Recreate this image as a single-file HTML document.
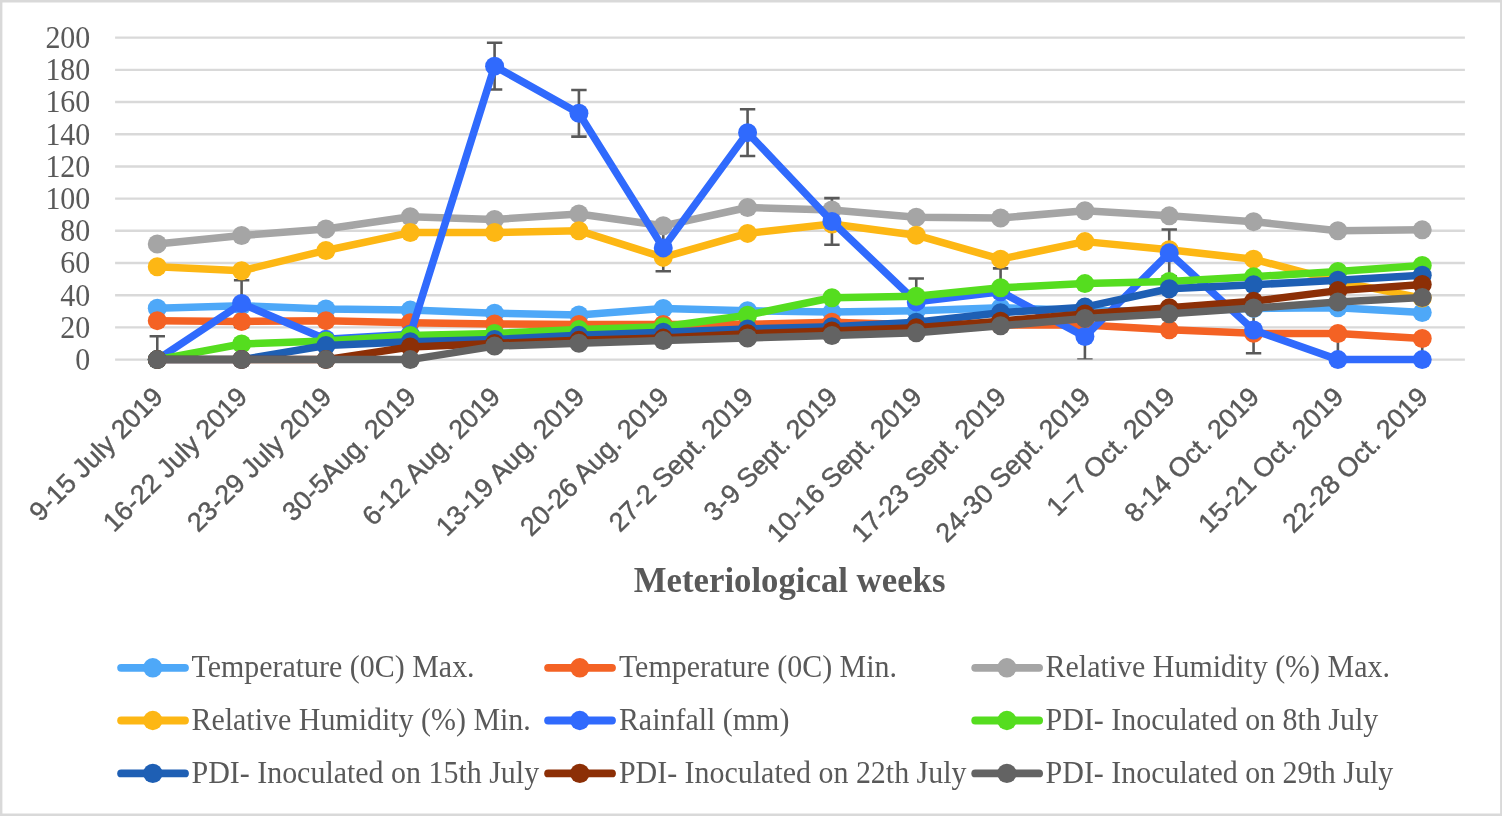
<!DOCTYPE html>
<html lang="en"><head><meta charset="utf-8"><title>Meteriological weeks</title>
<style>
html,body{margin:0;padding:0;background:#fff;}
body{width:1502px;height:816px;overflow:hidden;}
svg{display:block;}
.ser{font-family:"Liberation Serif",serif;font-size:31.3px;fill:#595959;}
.xl{font-family:"Liberation Sans",sans-serif;font-size:26.8px;fill:#595959;stroke:#595959;stroke-width:0.45px;}
.ttl{font-family:"Liberation Serif",serif;font-weight:bold;font-size:34.75px;fill:#595959;}
</style></head><body>
<svg width="1502" height="816" viewBox="0 0 1502 816">
<rect x="0" y="0" width="1502" height="816" fill="#fff"/>
<g fill="#D9D9D9"><rect x="0" y="0" width="1502" height="2.5"/><rect x="0" y="813.5" width="1502" height="2.5"/><rect x="0" y="0" width="2.4" height="816"/><rect x="1500.1" y="0" width="1.9" height="816"/></g>
<g stroke="#D9D9D9" stroke-width="2.4" fill="none">
<line x1="115.1" y1="359.60" x2="1464.9" y2="359.60"/>
<line x1="115.1" y1="327.41" x2="1464.9" y2="327.41"/>
<line x1="115.1" y1="295.21" x2="1464.9" y2="295.21"/>
<line x1="115.1" y1="263.01" x2="1464.9" y2="263.01"/>
<line x1="115.1" y1="230.82" x2="1464.9" y2="230.82"/>
<line x1="115.1" y1="198.62" x2="1464.9" y2="198.62"/>
<line x1="115.1" y1="166.43" x2="1464.9" y2="166.43"/>
<line x1="115.1" y1="134.23" x2="1464.9" y2="134.23"/>
<line x1="115.1" y1="102.04" x2="1464.9" y2="102.04"/>
<line x1="115.1" y1="69.84" x2="1464.9" y2="69.84"/>
<line x1="115.1" y1="37.65" x2="1464.9" y2="37.65"/>
</g>
<g class="ser" text-anchor="end">
<text transform="translate(90.3 370.00) scale(0.9569 1)">0</text>
<text transform="translate(90.3 337.81) scale(0.9569 1)">20</text>
<text transform="translate(90.3 305.61) scale(0.9569 1)">40</text>
<text transform="translate(90.3 273.41) scale(0.9569 1)">60</text>
<text transform="translate(90.3 241.22) scale(0.9569 1)">80</text>
<text transform="translate(90.3 209.03) scale(0.9569 1)">100</text>
<text transform="translate(90.3 176.83) scale(0.9569 1)">120</text>
<text transform="translate(90.3 144.63) scale(0.9569 1)">140</text>
<text transform="translate(90.3 112.44) scale(0.9569 1)">160</text>
<text transform="translate(90.3 80.24) scale(0.9569 1)">180</text>
<text transform="translate(90.3 48.05) scale(0.9569 1)">200</text>
</g>
<clipPath id="pc"><rect x="115.1" y="0" width="1349.3" height="359.60"/></clipPath>
<g stroke="#595959" stroke-width="2.6" fill="none" clip-path="url(#pc)">
<path d="M157.27 336.26V359.60M149.57 336.26h15.4M149.57 359.60h15.4"/>
<path d="M241.60 280.24V326.92M233.90 280.24h15.4M233.90 326.92h15.4"/>
<path d="M325.93 315.98V359.60M318.23 315.98h15.4M318.23 359.60h15.4"/>
<path d="M410.26 310.99V357.67M402.56 310.99h15.4M402.56 357.67h15.4"/>
<path d="M494.59 42.80V89.48M486.89 42.80h15.4M486.89 89.48h15.4"/>
<path d="M578.92 89.97V136.65M571.22 89.97h15.4M571.22 136.65h15.4"/>
<path d="M663.25 224.54V271.22M655.55 224.54h15.4M655.55 271.22h15.4"/>
<path d="M747.58 109.28V155.97M739.88 109.28h15.4M739.88 155.97h15.4"/>
<path d="M831.92 198.14V244.82M824.22 198.14h15.4M824.22 244.82h15.4"/>
<path d="M916.25 278.55V325.23M908.55 278.55h15.4M908.55 325.23h15.4"/>
<path d="M1000.58 268.33V315.01M992.88 268.33h15.4M992.88 315.01h15.4"/>
<path d="M1084.91 313.24V359.60M1077.21 313.24h15.4M1077.21 359.60h15.4"/>
<path d="M1169.24 229.53V276.21M1161.54 229.53h15.4M1161.54 276.21h15.4"/>
<path d="M1253.57 306.64V353.32M1245.87 306.64h15.4M1245.87 353.32h15.4"/>
<path d="M1337.90 336.26V359.60M1330.20 336.26h15.4M1330.20 359.60h15.4"/>
<path d="M1422.23 336.26V359.60M1414.53 336.26h15.4M1414.53 359.60h15.4"/>
</g>
<g fill="#4EA8F8">
<polyline points="157.27,308.25 241.60,305.67 325.93,309.05 410.26,310.10 494.59,313.24 578.92,314.93 663.25,308.41 747.58,310.82 831.92,312.11 916.25,310.82 1000.58,307.77 1084.91,310.50 1169.24,311.31 1253.57,308.41 1337.90,307.85 1422.23,312.60" fill="none" stroke="#4EA8F8" stroke-width="7.5" stroke-linejoin="round" stroke-linecap="round"/>
<circle cx="157.27" cy="308.25" r="9.5"/>
<circle cx="241.60" cy="305.67" r="9.5"/>
<circle cx="325.93" cy="309.05" r="9.5"/>
<circle cx="410.26" cy="310.10" r="9.5"/>
<circle cx="494.59" cy="313.24" r="9.5"/>
<circle cx="578.92" cy="314.93" r="9.5"/>
<circle cx="663.25" cy="308.41" r="9.5"/>
<circle cx="747.58" cy="310.82" r="9.5"/>
<circle cx="831.92" cy="312.11" r="9.5"/>
<circle cx="916.25" cy="310.82" r="9.5"/>
<circle cx="1000.58" cy="307.77" r="9.5"/>
<circle cx="1084.91" cy="310.50" r="9.5"/>
<circle cx="1169.24" cy="311.31" r="9.5"/>
<circle cx="1253.57" cy="308.41" r="9.5"/>
<circle cx="1337.90" cy="307.85" r="9.5"/>
<circle cx="1422.23" cy="312.60" r="9.5"/>
</g>
<g fill="#F46224">
<polyline points="157.27,320.64 241.60,321.45 325.93,320.64 410.26,322.74 494.59,324.02 578.92,324.59 663.25,324.59 747.58,324.35 831.92,322.25 916.25,324.67 1000.58,324.99 1084.91,324.99 1169.24,329.66 1253.57,333.36 1337.90,333.52 1422.23,338.51" fill="none" stroke="#F46224" stroke-width="7.5" stroke-linejoin="round" stroke-linecap="round"/>
<circle cx="157.27" cy="320.64" r="9.5"/>
<circle cx="241.60" cy="321.45" r="9.5"/>
<circle cx="325.93" cy="320.64" r="9.5"/>
<circle cx="410.26" cy="322.74" r="9.5"/>
<circle cx="494.59" cy="324.02" r="9.5"/>
<circle cx="578.92" cy="324.59" r="9.5"/>
<circle cx="663.25" cy="324.59" r="9.5"/>
<circle cx="747.58" cy="324.35" r="9.5"/>
<circle cx="831.92" cy="322.25" r="9.5"/>
<circle cx="916.25" cy="324.67" r="9.5"/>
<circle cx="1000.58" cy="324.99" r="9.5"/>
<circle cx="1084.91" cy="324.99" r="9.5"/>
<circle cx="1169.24" cy="329.66" r="9.5"/>
<circle cx="1253.57" cy="333.36" r="9.5"/>
<circle cx="1337.90" cy="333.52" r="9.5"/>
<circle cx="1422.23" cy="338.51" r="9.5"/>
</g>
<g fill="#A5A5A5">
<polyline points="157.27,244.02 241.60,235.49 325.93,229.05 410.26,216.82 494.59,219.39 578.92,214.08 663.25,225.83 747.58,207.48 831.92,209.89 916.25,217.30 1000.58,217.94 1084.91,210.70 1169.24,215.85 1253.57,221.64 1337.90,230.66 1422.23,229.85" fill="none" stroke="#A5A5A5" stroke-width="7.5" stroke-linejoin="round" stroke-linecap="round"/>
<circle cx="157.27" cy="244.02" r="9.5"/>
<circle cx="241.60" cy="235.49" r="9.5"/>
<circle cx="325.93" cy="229.05" r="9.5"/>
<circle cx="410.26" cy="216.82" r="9.5"/>
<circle cx="494.59" cy="219.39" r="9.5"/>
<circle cx="578.92" cy="214.08" r="9.5"/>
<circle cx="663.25" cy="225.83" r="9.5"/>
<circle cx="747.58" cy="207.48" r="9.5"/>
<circle cx="831.92" cy="209.89" r="9.5"/>
<circle cx="916.25" cy="217.30" r="9.5"/>
<circle cx="1000.58" cy="217.94" r="9.5"/>
<circle cx="1084.91" cy="210.70" r="9.5"/>
<circle cx="1169.24" cy="215.85" r="9.5"/>
<circle cx="1253.57" cy="221.64" r="9.5"/>
<circle cx="1337.90" cy="230.66" r="9.5"/>
<circle cx="1422.23" cy="229.85" r="9.5"/>
</g>
<g fill="#FDB714">
<polyline points="157.27,266.72 241.60,270.74 325.93,250.46 410.26,232.59 494.59,232.59 578.92,230.66 663.25,257.38 747.58,233.40 831.92,224.06 916.25,235.17 1000.58,259.15 1084.91,241.61 1169.24,249.82 1253.57,259.15 1337.90,281.37 1422.23,298.11" fill="none" stroke="#FDB714" stroke-width="7.5" stroke-linejoin="round" stroke-linecap="round"/>
<circle cx="157.27" cy="266.72" r="9.5"/>
<circle cx="241.60" cy="270.74" r="9.5"/>
<circle cx="325.93" cy="250.46" r="9.5"/>
<circle cx="410.26" cy="232.59" r="9.5"/>
<circle cx="494.59" cy="232.59" r="9.5"/>
<circle cx="578.92" cy="230.66" r="9.5"/>
<circle cx="663.25" cy="257.38" r="9.5"/>
<circle cx="747.58" cy="233.40" r="9.5"/>
<circle cx="831.92" cy="224.06" r="9.5"/>
<circle cx="916.25" cy="235.17" r="9.5"/>
<circle cx="1000.58" cy="259.15" r="9.5"/>
<circle cx="1084.91" cy="241.61" r="9.5"/>
<circle cx="1169.24" cy="249.82" r="9.5"/>
<circle cx="1253.57" cy="259.15" r="9.5"/>
<circle cx="1337.90" cy="281.37" r="9.5"/>
<circle cx="1422.23" cy="298.11" r="9.5"/>
</g>
<g fill="#306AFD">
<polyline points="157.27,359.60 241.60,303.58 325.93,339.32 410.26,334.33 494.59,66.14 578.92,113.31 663.25,247.88 747.58,132.63 831.92,221.48 916.25,301.89 1000.58,291.67 1084.91,336.58 1169.24,252.87 1253.57,329.98 1337.90,359.60 1422.23,359.60" fill="none" stroke="#306AFD" stroke-width="7.5" stroke-linejoin="round" stroke-linecap="round"/>
<circle cx="157.27" cy="359.60" r="9.5"/>
<circle cx="241.60" cy="303.58" r="9.5"/>
<circle cx="325.93" cy="339.32" r="9.5"/>
<circle cx="410.26" cy="334.33" r="9.5"/>
<circle cx="494.59" cy="66.14" r="9.5"/>
<circle cx="578.92" cy="113.31" r="9.5"/>
<circle cx="663.25" cy="247.88" r="9.5"/>
<circle cx="747.58" cy="132.63" r="9.5"/>
<circle cx="831.92" cy="221.48" r="9.5"/>
<circle cx="916.25" cy="301.89" r="9.5"/>
<circle cx="1000.58" cy="291.67" r="9.5"/>
<circle cx="1084.91" cy="336.58" r="9.5"/>
<circle cx="1169.24" cy="252.87" r="9.5"/>
<circle cx="1253.57" cy="329.98" r="9.5"/>
<circle cx="1337.90" cy="359.60" r="9.5"/>
<circle cx="1422.23" cy="359.60" r="9.5"/>
</g>
<g fill="#55DD1F">
<polyline points="157.27,359.60 241.60,343.99 325.93,340.93 410.26,335.45 494.59,333.52 578.92,329.42 663.25,326.68 747.58,315.17 831.92,297.71 916.25,296.34 1000.58,287.81 1084.91,283.62 1169.24,281.53 1253.57,276.70 1337.90,271.55 1422.23,265.43" fill="none" stroke="#55DD1F" stroke-width="7.5" stroke-linejoin="round" stroke-linecap="round"/>
<circle cx="157.27" cy="359.60" r="9.5"/>
<circle cx="241.60" cy="343.99" r="9.5"/>
<circle cx="325.93" cy="340.93" r="9.5"/>
<circle cx="410.26" cy="335.45" r="9.5"/>
<circle cx="494.59" cy="333.52" r="9.5"/>
<circle cx="578.92" cy="329.42" r="9.5"/>
<circle cx="663.25" cy="326.68" r="9.5"/>
<circle cx="747.58" cy="315.17" r="9.5"/>
<circle cx="831.92" cy="297.71" r="9.5"/>
<circle cx="916.25" cy="296.34" r="9.5"/>
<circle cx="1000.58" cy="287.81" r="9.5"/>
<circle cx="1084.91" cy="283.62" r="9.5"/>
<circle cx="1169.24" cy="281.53" r="9.5"/>
<circle cx="1253.57" cy="276.70" r="9.5"/>
<circle cx="1337.90" cy="271.55" r="9.5"/>
<circle cx="1422.23" cy="265.43" r="9.5"/>
</g>
<g fill="#1E5FB4">
<polyline points="157.27,359.60 241.60,359.60 325.93,345.43 410.26,341.73 494.59,339.40 578.92,335.37 663.25,332.23 747.58,329.01 831.92,326.68 916.25,322.17 1000.58,312.76 1084.91,307.12 1169.24,288.77 1253.57,284.75 1337.90,280.24 1422.23,275.33" fill="none" stroke="#1E5FB4" stroke-width="7.5" stroke-linejoin="round" stroke-linecap="round"/>
<circle cx="157.27" cy="359.60" r="9.5"/>
<circle cx="241.60" cy="359.60" r="9.5"/>
<circle cx="325.93" cy="345.43" r="9.5"/>
<circle cx="410.26" cy="341.73" r="9.5"/>
<circle cx="494.59" cy="339.40" r="9.5"/>
<circle cx="578.92" cy="335.37" r="9.5"/>
<circle cx="663.25" cy="332.23" r="9.5"/>
<circle cx="747.58" cy="329.01" r="9.5"/>
<circle cx="831.92" cy="326.68" r="9.5"/>
<circle cx="916.25" cy="322.17" r="9.5"/>
<circle cx="1000.58" cy="312.76" r="9.5"/>
<circle cx="1084.91" cy="307.12" r="9.5"/>
<circle cx="1169.24" cy="288.77" r="9.5"/>
<circle cx="1253.57" cy="284.75" r="9.5"/>
<circle cx="1337.90" cy="280.24" r="9.5"/>
<circle cx="1422.23" cy="275.33" r="9.5"/>
</g>
<g fill="#8C2F06">
<polyline points="157.27,359.60 241.60,359.60 325.93,359.60 410.26,346.96 494.59,343.42 578.92,340.36 663.25,338.11 747.58,333.76 831.92,330.95 916.25,327.73 1000.58,321.13 1084.91,313.88 1169.24,307.77 1253.57,301.25 1337.90,290.62 1422.23,284.42" fill="none" stroke="#8C2F06" stroke-width="7.5" stroke-linejoin="round" stroke-linecap="round"/>
<circle cx="157.27" cy="359.60" r="9.5"/>
<circle cx="241.60" cy="359.60" r="9.5"/>
<circle cx="325.93" cy="359.60" r="9.5"/>
<circle cx="410.26" cy="346.96" r="9.5"/>
<circle cx="494.59" cy="343.42" r="9.5"/>
<circle cx="578.92" cy="340.36" r="9.5"/>
<circle cx="663.25" cy="338.11" r="9.5"/>
<circle cx="747.58" cy="333.76" r="9.5"/>
<circle cx="831.92" cy="330.95" r="9.5"/>
<circle cx="916.25" cy="327.73" r="9.5"/>
<circle cx="1000.58" cy="321.13" r="9.5"/>
<circle cx="1084.91" cy="313.88" r="9.5"/>
<circle cx="1169.24" cy="307.77" r="9.5"/>
<circle cx="1253.57" cy="301.25" r="9.5"/>
<circle cx="1337.90" cy="290.62" r="9.5"/>
<circle cx="1422.23" cy="284.42" r="9.5"/>
</g>
<g fill="#636363">
<polyline points="157.27,359.60 241.60,359.60 325.93,359.60 410.26,359.60 494.59,346.08 578.92,343.26 663.25,340.60 747.58,338.03 831.92,335.45 916.25,332.72 1000.58,325.80 1084.91,318.39 1169.24,313.80 1253.57,308.09 1337.90,302.05 1422.23,297.46" fill="none" stroke="#636363" stroke-width="7.5" stroke-linejoin="round" stroke-linecap="round"/>
<circle cx="157.27" cy="359.60" r="9.5"/>
<circle cx="241.60" cy="359.60" r="9.5"/>
<circle cx="325.93" cy="359.60" r="9.5"/>
<circle cx="410.26" cy="359.60" r="9.5"/>
<circle cx="494.59" cy="346.08" r="9.5"/>
<circle cx="578.92" cy="343.26" r="9.5"/>
<circle cx="663.25" cy="340.60" r="9.5"/>
<circle cx="747.58" cy="338.03" r="9.5"/>
<circle cx="831.92" cy="335.45" r="9.5"/>
<circle cx="916.25" cy="332.72" r="9.5"/>
<circle cx="1000.58" cy="325.80" r="9.5"/>
<circle cx="1084.91" cy="318.39" r="9.5"/>
<circle cx="1169.24" cy="313.80" r="9.5"/>
<circle cx="1253.57" cy="308.09" r="9.5"/>
<circle cx="1337.90" cy="302.05" r="9.5"/>
<circle cx="1422.23" cy="297.46" r="9.5"/>
</g>
<g class="xl" text-anchor="end">
<text transform="translate(164.47 398.40) rotate(-45)">9-15 July 2019</text>
<text transform="translate(248.80 398.40) rotate(-45)">16-22 July 2019</text>
<text transform="translate(333.13 398.40) rotate(-45)">23-29 July 2019</text>
<text transform="translate(417.46 398.40) rotate(-45)">30-5Aug. 2019</text>
<text transform="translate(501.79 398.40) rotate(-45)">6-12 Aug. 2019</text>
<text transform="translate(586.12 398.40) rotate(-45)">13-19 Aug. 2019</text>
<text transform="translate(670.45 398.40) rotate(-45)">20-26 Aug. 2019</text>
<text transform="translate(754.78 398.40) rotate(-45)">27-2 Sept. 2019</text>
<text transform="translate(839.12 398.40) rotate(-45)">3-9 Sept. 2019</text>
<text transform="translate(923.45 398.40) rotate(-45)">10-16 Sept. 2019</text>
<text transform="translate(1007.78 398.40) rotate(-45)">17-23 Sept. 2019</text>
<text transform="translate(1092.11 398.40) rotate(-45)">24-30 Sept. 2019</text>
<text transform="translate(1176.44 398.40) rotate(-45)">1–7 Oct. 2019</text>
<text transform="translate(1260.77 398.40) rotate(-45)">8-14 Oct. 2019</text>
<text transform="translate(1345.10 398.40) rotate(-45)">15-21 Oct. 2019</text>
<text transform="translate(1429.43 398.40) rotate(-45)">22-28 Oct. 2019</text>
</g>
<text class="ttl" x="789.6" y="591.7" text-anchor="middle">Meteriological weeks</text>
<g class="ser">
<line x1="121.10" y1="667.80" x2="185.00" y2="667.80" stroke="#4EA8F8" stroke-width="7.8" stroke-linecap="round"/>
<circle cx="152.80" cy="667.80" r="9.7" fill="#4EA8F8"/>
<text transform="translate(191.50 677.30) scale(0.9569 1)">Temperature (0C) Max.</text>
<line x1="548.10" y1="667.80" x2="612.00" y2="667.80" stroke="#F46224" stroke-width="7.8" stroke-linecap="round"/>
<circle cx="579.80" cy="667.80" r="9.7" fill="#F46224"/>
<text transform="translate(618.90 677.30) scale(0.9569 1)">Temperature (0C) Min.</text>
<line x1="975.20" y1="667.80" x2="1039.10" y2="667.80" stroke="#A5A5A5" stroke-width="7.8" stroke-linecap="round"/>
<circle cx="1006.90" cy="667.80" r="9.7" fill="#A5A5A5"/>
<text transform="translate(1045.60 677.30) scale(0.9569 1)">Relative Humidity (%) Max.</text>
<line x1="121.10" y1="720.50" x2="185.00" y2="720.50" stroke="#FDB714" stroke-width="7.8" stroke-linecap="round"/>
<circle cx="152.80" cy="720.50" r="9.7" fill="#FDB714"/>
<text transform="translate(191.50 730.00) scale(0.9569 1)">Relative Humidity (%) Min.</text>
<line x1="548.10" y1="720.50" x2="612.00" y2="720.50" stroke="#306AFD" stroke-width="7.8" stroke-linecap="round"/>
<circle cx="579.80" cy="720.50" r="9.7" fill="#306AFD"/>
<text transform="translate(618.90 730.00) scale(0.9569 1)">Rainfall (mm)</text>
<line x1="975.20" y1="720.50" x2="1039.10" y2="720.50" stroke="#55DD1F" stroke-width="7.8" stroke-linecap="round"/>
<circle cx="1006.90" cy="720.50" r="9.7" fill="#55DD1F"/>
<text transform="translate(1045.60 730.00) scale(0.9569 1)">PDI- Inoculated on 8th July</text>
<line x1="121.10" y1="773.40" x2="185.00" y2="773.40" stroke="#1E5FB4" stroke-width="7.8" stroke-linecap="round"/>
<circle cx="152.80" cy="773.40" r="9.7" fill="#1E5FB4"/>
<text transform="translate(191.50 782.90) scale(0.9569 1)">PDI- Inoculated on 15th July</text>
<line x1="548.10" y1="773.40" x2="612.00" y2="773.40" stroke="#8C2F06" stroke-width="7.8" stroke-linecap="round"/>
<circle cx="579.80" cy="773.40" r="9.7" fill="#8C2F06"/>
<text transform="translate(618.90 782.90) scale(0.9569 1)">PDI- Inoculated on 22th July</text>
<line x1="975.20" y1="773.40" x2="1039.10" y2="773.40" stroke="#636363" stroke-width="7.8" stroke-linecap="round"/>
<circle cx="1006.90" cy="773.40" r="9.7" fill="#636363"/>
<text transform="translate(1045.60 782.90) scale(0.9569 1)">PDI- Inoculated on 29th July</text>
</g>
</svg>
</body></html>
